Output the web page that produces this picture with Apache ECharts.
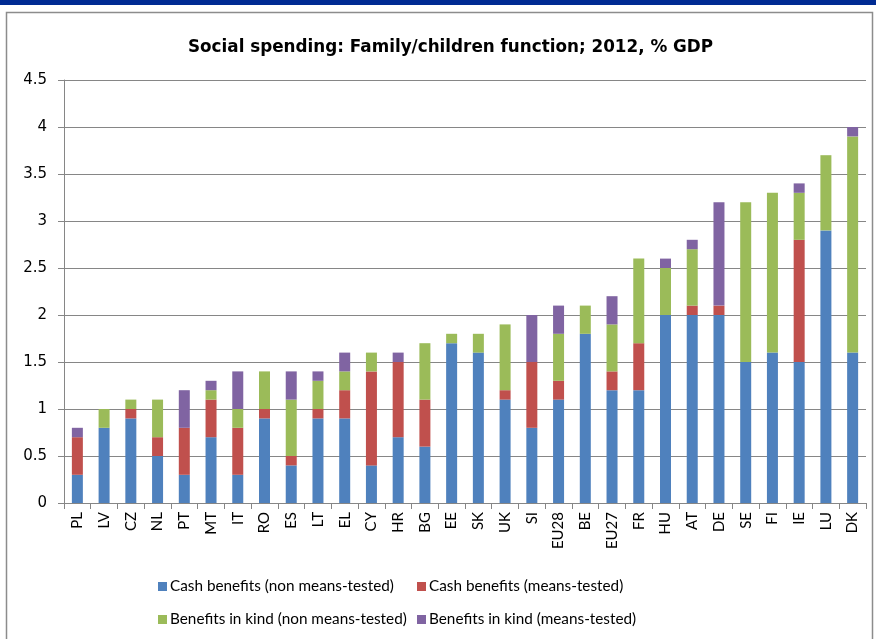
<!DOCTYPE html>
<html><head><meta charset="utf-8">
<script src="https://cdn.jsdelivr.net/npm/echarts@6/dist/echarts.min.js"></script>
<style>html,body{margin:0;padding:0;background:#fff}#c{width:876px;height:639px}</style>
</head><body><div id="c"></div>
<script>
const categories = ['PL','LV','CZ','NL','PT','MT','IT','RO','ES','LT','EL','CY','HR','BG','EE','SK','UK','SI','EU28','BE','EU27','FR','HU','AT','DE','SE','FI','IE','LU','DK'];
const cashNonMeans = [0.3,0.8,0.9,0.5,0.3,0.7,0.3,0.9,0.4,0.9,0.9,0.4,0.7,0.6,1.7,1.6,1.1,0.8,1.1,1.8,1.2,1.2,2.0,2.0,2.0,1.5,1.6,1.5,2.9,1.6];
const cashMeans    = [0.4,0,0.1,0.2,0.5,0.4,0.5,0.1,0.1,0.1,0.3,1.0,0.8,0.5,0,0,0.1,0.7,0.2,0,0.2,0.5,0,0.1,0.1,0,0,1.3,0,0];
const kindNonMeans = [0,0.2,0.1,0.4,0,0.1,0.2,0.4,0.6,0.3,0.2,0.2,0,0.6,0.1,0.2,0.7,0,0.5,0.3,0.5,0.9,0.5,0.6,0,1.7,1.7,0.5,0.8,2.3];
const kindMeans    = [0.1,0,0,0,0.4,0.1,0.4,0,0.3,0.1,0.2,0,0.1,0,0,0,0,0.5,0.3,0,0.3,0,0.1,0.1,1.1,0,0,0.1,0,0.1];
const seriesNames = ['Cash benefits (non means-tested)','Cash benefits (means-tested)','Benefits in kind (non means-tested)','Benefits in kind (means-tested)'];
const yTicks = ['0','0.5','1','1.5','2','2.5','3','3.5','4','4.5'];

const colors = ['#4F81BD','#C0504D','#9BBB59','#8064A2'];
const data = [cashNonMeans, cashMeans, kindNonMeans, kindMeans];
const font = 'Lato, "Open Sans", sans-serif';
const wide = '"DejaVu Sans", sans-serif';

const chart = echarts.init(document.getElementById('c'), null, {renderer:'canvas'});
chart.setOption({
  animation: false,
  color: colors,
  graphic: [
    {type:'rect', shape:{x:0,y:0,width:876,height:5}, style:{fill:'#002B93'}, z:0},
    {type:'rect', shape:{x:6.5,y:12.5,width:866,height:700}, style:{fill:'none',stroke:'#8C8C8C',lineWidth:1.5}, z:0}
  ],
  title: {
    text: 'Social spending: Family/children function; 2012, % GDP',
    left: 183, top: 34,
    textStyle: {fontFamily: wide, fontSize: 16.8, fontWeight: 'bold', color: '#000'}
  },
  legend: [
    {data:[seriesNames[0], seriesNames[2]], orient:'vertical', left:153, top:574, itemGap:18, itemWidth:9, itemHeight:9,
     textStyle:{fontFamily:font, fontSize:15.3, color:'#000', padding:[0,0,0,-2]}, icon:'rect'},
    {data:[seriesNames[1], seriesNames[3]], orient:'vertical', left:412, top:574, itemGap:18, itemWidth:9, itemHeight:9,
     textStyle:{fontFamily:font, fontSize:15.3, color:'#000', padding:[0,0,0,-2]}, icon:'rect'}
  ],
  grid: {left:64, right:10, top:80, bottom:136, containLabel:false},
  xAxis: {
    type:'category', data: categories,
    axisLine:{lineStyle:{color:'#868686'}},
    axisTick:{show:true, length:6, lineStyle:{color:'#868686'}},
    axisLabel:{rotate:90, fontFamily:font, fontSize:15, color:'#000', margin:9}
  },
  yAxis: {
    type:'value', min:0, max:4.5, interval:0.5,
    axisLine:{show:true, lineStyle:{color:'#868686'}},
    axisTick:{show:true, length:6, lineStyle:{color:'#868686'}},
    splitLine:{lineStyle:{color:'#868686'}},
    axisLabel:{fontFamily:wide, fontSize:15, color:'#000', margin:17,
      formatter: function(v){ const i = Math.round(v/0.5); return yTicks[i] !== undefined ? yTicks[i] : String(v); }}
  },
  series: data.map((d,i)=>({
    name: seriesNames[i], type:'bar', stack:'total', data:d, barWidth:11,
    itemStyle:{color:colors[i]}
  }))
});
</script></body></html>
